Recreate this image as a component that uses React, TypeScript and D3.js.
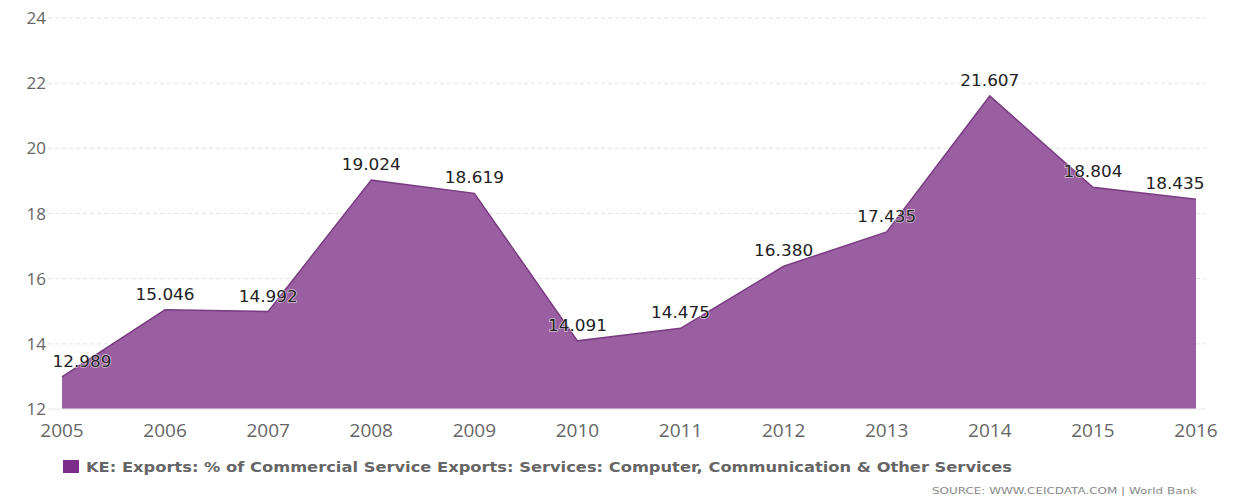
import React from "react";
import * as d3 from "d3";

const years = ["2005","2006","2007","2008","2009","2010","2011","2012","2013","2014","2015","2016"];
const values = [12.989, 15.046, 14.992, 19.024, 18.619, 14.091, 14.475, 16.380, 17.435, 21.607, 18.804, 18.435];
const yTicks = [12, 14, 16, 18, 20, 22, 24];
const seriesName = "KE: Exports: % of Commercial Service Exports: Services: Computer, Communication & Other Services";
const sourceText = "SOURCE: WWW.CEICDATA.COM | World Bank";

export default function App() {
  const W = 1233, H = 500;
  const x = d3.scalePoint().domain(years).range([62, 1196]);
  const y = d3.scaleLinear().domain([12, 24]).range([409, 18]);
  const pts = years.map((yr, i) => ({ yr, v: values[i] }));
  const area = d3.area<any>().x(d => x(d.yr)!).y0(y(12)).y1(d => y(d.v));
  const line = d3.line<any>().x(d => x(d.yr)!).y(d => y(d.v));
  return (
    <svg width={W} height={H} style={{ position: "absolute", left: 0, top: 0 }}>
      <rect width={W} height={H} fill="#fff" />
      {yTicks.map(t => (
        <g key={t}>
          {t > 12 && <line x1={48} x2={1206} y1={y(t)} y2={y(t)} stroke="#e3e3e3" strokeDasharray="4,3" />}
          <text x={46} y={y(t) + 6} textAnchor="end" fontFamily="Open Sans" fontSize={17} fill="#666">{t}</text>
        </g>
      ))}
      <path d={area(pts)!} fill="#995fa0" />
      <path d={line(pts)!} fill="none" stroke="#7a3c82" strokeWidth={1.5} />
      <line x1={48} x2={1206} y1={y(12)} y2={y(12)} stroke="#e8e8e8" />
      {pts.map((p) => {
        const px = x(p.yr)!;
        const half = 30;
        const cx = Math.min(Math.max(px, 52 + half), 1205 - half);
        return (
          <text key={p.yr} x={cx} y={y(p.v) - 10} textAnchor="middle" fontFamily="DejaVu Sans" fontSize={16} fill="#222"
            stroke="rgba(255,255,255,0.6)" strokeWidth={1.5} paintOrder="stroke" textLength={59} lengthAdjust="spacingAndGlyphs">
            {p.v.toFixed(3)}
          </text>
        );
      })}
      {years.map(yr => (
        <text key={yr} x={x(yr)!} y={437} textAnchor="middle" fontFamily="Open Sans" fontSize={19} fill="#666">{yr}</text>
      ))}
      <rect x={63} y={460} width={16} height={13} fill="#7b2d8b" />
      <text x={86} y={472} fontFamily="DejaVu Sans" fontWeight="bold" fontSize={14} fill="#666" textLength={926} lengthAdjust="spacingAndGlyphs">{seriesName}</text>
      <text x={1197} y={494} textAnchor="end" fontFamily="DejaVu Sans" fontSize={9} fill="#888" textLength={265} lengthAdjust="spacingAndGlyphs">{sourceText}</text>
    </svg>
  );
}
